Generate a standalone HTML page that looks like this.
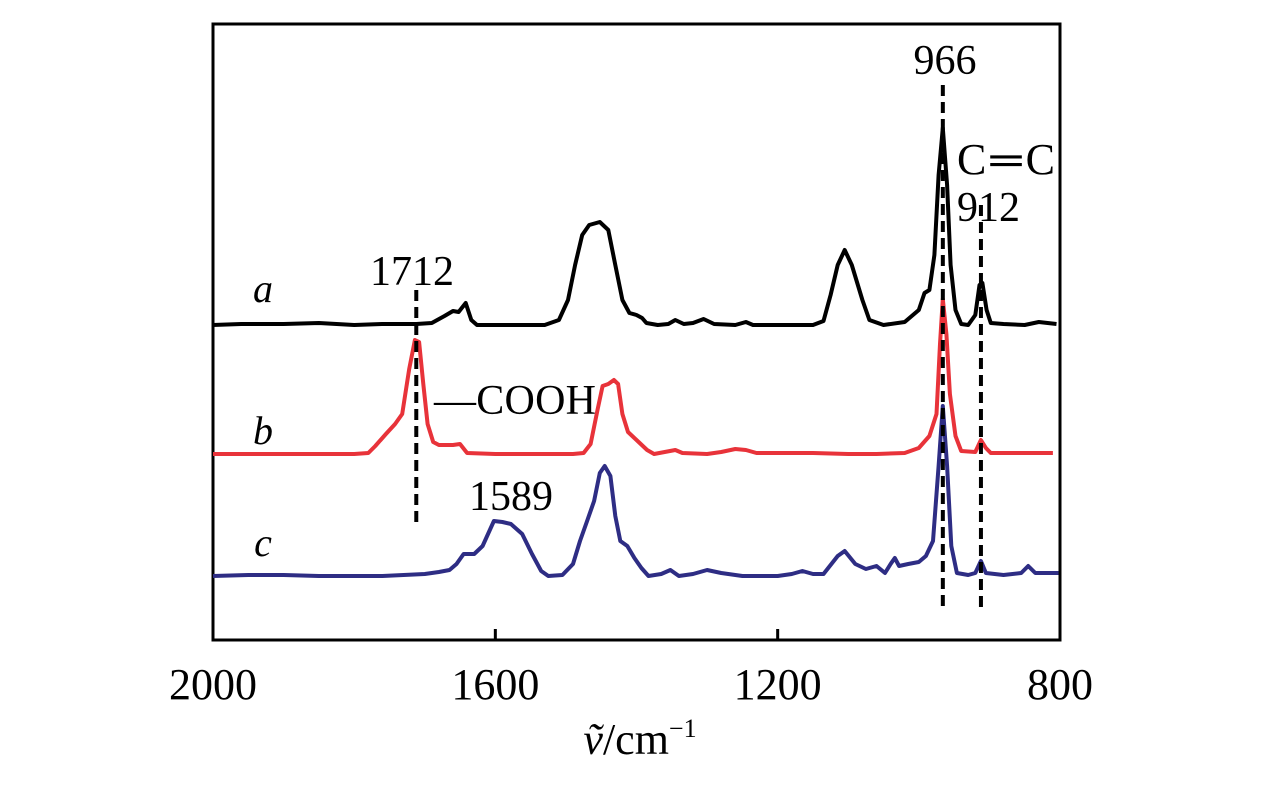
<!DOCTYPE html>
<html><head><meta charset="utf-8"><style>
body{margin:0;background:#fff}
svg{display:block;font-family:"Liberation Serif",serif}
</style></head><body>
<svg id="chart" width="1276" height="787" viewBox="0 0 1276 787">
<rect x="213" y="24" width="847" height="616" fill="none" stroke="#000" stroke-width="3"/>
<g id="ticks"></g>
<g id="series"></g>
<g id="marks"></g>
<text x="263" y="302" font-size="40" font-style="italic" text-anchor="middle">a</text>
<text x="263" y="444" font-size="40" font-style="italic" text-anchor="middle">b</text>
<text x="263" y="556" font-size="40" font-style="italic" text-anchor="middle">c</text>
<text x="412" y="285" font-size="42" text-anchor="middle">1712</text>
<text x="945" y="74" font-size="42" text-anchor="middle">966</text>
<text x="957" y="174" font-size="44" textLength="98">C═C</text>
<text x="957" y="221" font-size="42">912</text>
<text x="434" y="414" font-size="42" textLength="162">—COOH</text>
<text x="511" y="510" font-size="42" text-anchor="middle">1589</text>
<text x="640" y="754" font-size="44" text-anchor="middle"><tspan font-style="italic">ṽ</tspan>/cm<tspan font-size="26" dy="-17">−1</tspan></text>
</svg>
<script>
const xTicks=[2000,1600,1200,800];
const peakLines=[1712,966,912];
const seriesA=[[2000,0],[1960,1],[1900,1],[1850,2],[1800,0],[1760,1],[1712,1],[1690,2],[1672,9],[1660,14],[1652,13],[1642,22],[1634,5],[1626,0],[1530,0],[1510,5],[1497,25],[1487,60],[1477,90],[1467,100],[1452,103],[1440,95],[1430,60],[1420,25],[1410,12],[1400,10],[1392,7],[1386,2],[1370,0],[1355,1],[1345,5],[1333,1],[1320,2],[1305,6],[1290,1],[1260,0],[1245,3],[1235,0],[1150,0],[1135,4],[1125,30],[1115,60],[1105,75],[1095,60],[1080,25],[1070,5],[1050,0],[1020,3],[1000,15],[992,32],[985,35],[978,70],[972,150],[966,197],[960,140],[955,60],[948,15],[940,1],[930,0],[920,10],[914,40],[910,42],[904,15],[898,2],[880,1],[850,0],[830,3],[805,1]];
const seriesB=[[2000,0],[1800,0],[1780,1],[1770,8],[1755,20],[1742,30],[1732,40],[1722,85],[1714,114],[1708,112],[1702,70],[1696,30],[1688,12],[1680,9],[1660,9],[1650,10],[1640,1],[1600,0],[1490,0],[1475,1],[1465,10],[1455,45],[1448,68],[1440,70],[1432,74],[1426,70],[1420,40],[1412,22],[1400,14],[1385,4],[1375,0],[1360,2],[1345,4],[1335,1],[1300,0],[1280,2],[1260,5],[1245,4],[1230,1],[1150,1],[1100,0],[1060,0],[1020,1],[1000,6],[985,18],[975,40],[970,110],[966,155],[961,120],[956,60],[948,18],[940,3],[920,2],[912,14],[905,6],[898,1],[810,1]];
const seriesC=[[2000,0],[1950,1],[1900,1],[1850,0],[1800,0],[1760,0],[1700,2],[1680,4],[1665,6],[1655,12],[1645,22],[1630,22],[1618,30],[1602,55],[1590,54],[1578,52],[1562,42],[1548,22],[1535,5],[1525,0],[1505,1],[1490,12],[1480,35],[1470,55],[1460,75],[1452,103],[1445,110],[1437,100],[1430,60],[1423,35],[1413,30],[1403,18],[1393,8],[1383,0],[1365,2],[1352,6],[1340,0],[1320,2],[1300,6],[1280,3],[1250,0],[1200,0],[1180,2],[1165,5],[1150,2],[1135,2],[1115,20],[1105,25],[1090,12],[1075,7],[1060,10],[1048,3],[1040,12],[1034,18],[1028,10],[1015,12],[1000,14],[990,20],[980,35],[972,110],[966,170],[960,110],[954,30],[946,3],[930,1],[920,3],[912,15],[905,3],[880,1],[855,3],[845,10],[835,3],[815,3],[802,3]];
const X0=213,X1=1060,W0=2000,W1=800;
function xs(w){return X0+(W0-w)*(X1-X0)/(W0-W1);}
const NS='http://www.w3.org/2000/svg';
const tg=document.getElementById('ticks');
xTicks.forEach(t=>{
 const l=document.createElementNS(NS,'line');
 
 
 l.setAttribute('x1',xs(t));l.setAttribute('x2',xs(t));l.setAttribute('y1',640);l.setAttribute('y2',629);
 l.setAttribute('stroke','#000');l.setAttribute('stroke-width',3);tg.appendChild(l);
 const tx=document.createElementNS(NS,'text');
 
 
 tx.setAttribute('x',xs(t));tx.setAttribute('y',699);tx.setAttribute('font-size',44);tx.setAttribute('text-anchor','middle');
 tx.textContent=t;tg.appendChild(tx);
});
const sg=document.getElementById('series');
function draw(data,base,color,name){
 const p=document.createElementNS(NS,'polyline');
 
 
 p.setAttribute('points',data.map(d=>xs(d[0]).toFixed(1)+','+(base-d[1]).toFixed(1)).join(' '));
 p.setAttribute('fill','none');p.setAttribute('stroke',color);p.setAttribute('stroke-width',4);p.setAttribute('stroke-linejoin','round');
 sg.appendChild(p);
}
draw(seriesA,325,'#000','series-a');
draw(seriesB,454,'#e8333a','series-b');
draw(seriesC,576,'#2e2d84','series-c');
const mg=document.getElementById('marks');
const spans={1712:[290,522],966:[85,610],912:[205,612]};
peakLines.forEach(w=>{
 const l=document.createElementNS(NS,'line');
 
 
 l.setAttribute('x1',xs(w));l.setAttribute('x2',xs(w));l.setAttribute('y1',spans[w][0]);l.setAttribute('y2',spans[w][1]);
 l.setAttribute('stroke','#000');l.setAttribute('stroke-width',4);l.setAttribute('stroke-dasharray','11 6');
 mg.appendChild(l);
});
</script>
</body></html>
